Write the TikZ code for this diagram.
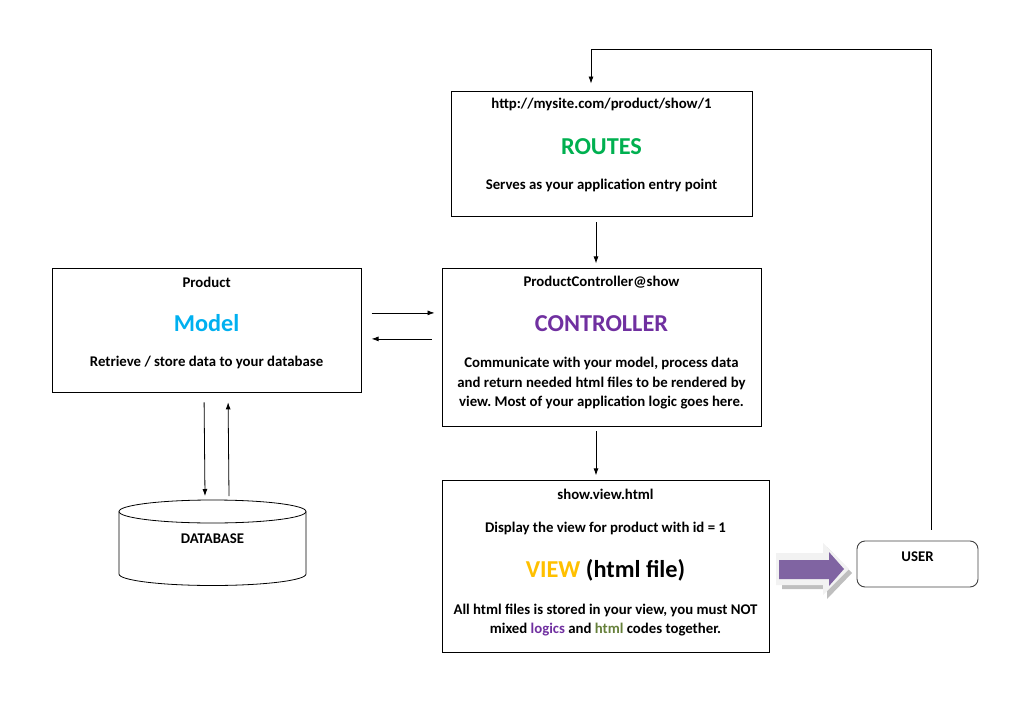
\documentclass[tikz,border=0pt]{standalone}
\usepackage{fontspec}
\setmainfont{Carlito}
\usetikzlibrary{positioning, shapes.geometric, arrows.meta}

\definecolor{routesgreen}{HTML}{00B050}
\definecolor{modelblue}{HTML}{00B0F0}
\definecolor{ctrlpurple}{HTML}{7030A0}
\definecolor{viewgold}{HTML}{FFC000}
\definecolor{htmlolive}{HTML}{66803A}
\definecolor{arrowpurple}{HTML}{8064A2}

\begin{document}
\frenchspacing
\begin{tikzpicture}[x=1pt, y=-1pt, >=latex]
      \tikzstyle{box} = [rectangle, draw=black, line width=0.9pt, inner sep=0pt]
      \tikzstyle{small} = [font=\bfseries\fontsize{14.8}{19.5}\selectfont, align=center, inner sep=0pt]
      \tikzstyle{title} = [font=\bfseries\fontsize{24.3}{28}\selectfont, inner sep=0pt]
      \tikzstyle{arrow} = [line width=0.8pt, -{Latex[length=7pt, width=5pt]}]

      \useasboundingbox (0,0) rectangle (1015,725);

      % boxes
      \node (routes) [box, minimum width=301pt, minimum height=125pt] at (601.5,153.5) {};
      \node (controller) [box, minimum width=319pt, minimum height=158pt, below=52pt of routes] {};
      \node (view) [box, minimum width=327pt, minimum height=172pt, below=53pt of controller, xshift=4pt] {};
      \node (model) [box, minimum width=309pt, minimum height=124pt, left=80pt of controller.north west, anchor=north east] {};
      \node (user) [box, rounded corners=8pt, draw=black!75, minimum width=121pt, minimum height=46pt] at (917.5,564) {};

      % database
      \coordinate (db) at (212.5,500);
      \draw [line width=0.8pt] (212.5,511.5) ellipse [x radius=93.5pt, y radius=11.5pt];
      \draw [line width=0.8pt] (119,511.5) -- (119,574) arc [start angle=180, end angle=360, x radius=93.5pt, y radius=11.5pt] -- (306,511.5);

      % texts
      \node (routesurl) [small] at ([yshift=-14pt]routes.north) {http://mysite.com/product/show/1};
      \node (routestitle) [title, text=routesgreen] at ([yshift=-56pt]routes.north) {ROUTES};
      \node (routesinfo) [small] at ([yshift=-95pt]routes.north) {Serves as your application entry point};

      \node (ctrlname) [small] at ([yshift=-14pt]controller.north) {ProductController@show};
      \node (ctrltitle) [title, text=ctrlpurple] at ([yshift=-55pt]controller.north) {CONTROLLER};
      \node (ctrlinfo) [small] at ([yshift=-115pt]controller.north) {Communicate with your model, process data\\and return needed html files to be rendered by\\view. Most of your application logic goes here.};

      \node (viewname) [small] at ([yshift=-14pt]view.north) {show.view.html};
      \node (viewdisplay) [small] at ([yshift=-48pt]view.north) {Display the view for product with id = 1};
      \node (viewtitle) [title] at ([yshift=-90pt]view.north) {\textcolor{viewgold}{VIEW} (html file)};
      \node (viewinfo) [small] at ([yshift=-139.5pt]view.north) {All html files is stored in your view, you must NOT\\mixed \textcolor{ctrlpurple}{logics} and \textcolor{htmlolive}{html} codes together.};

      \node (modelname) [small] at ([yshift=-14pt]model.north) {Product};
      \node (modeltitle) [title, text=modelblue] at ([yshift=-55pt]model.north) {Model};
      \node (modelinfo) [small] at ([yshift=-94pt]model.north) {Retrieve / store data to your database};

      \node (dbname) [small] at ([yshift=-39pt]db) {DATABASE};
      \node (username) [small] at ([yshift=-16pt]user.north) {USER};

      % connectors
      \draw [arrow] ([xshift=-5.5pt, yshift=-6pt]routes.south) -- ([xshift=-5.5pt, yshift=5pt]controller.north);
      \draw [arrow] ([xshift=-5.5pt, yshift=-4pt]controller.south) -- ([xshift=-9.5pt, yshift=5pt]view.north);
      \draw [arrow] ([xshift=10pt, yshift=18pt]model.east) -- ([xshift=-7pt, yshift=35pt]controller.west);
      \draw [arrow] ([xshift=-10pt, yshift=9pt]controller.west) -- ([xshift=10pt, yshift=-8pt]model.east);
      \draw [arrow] ([xshift=-2.5pt, yshift=-9pt]model.south) -- ([xshift=-7.5pt, yshift=4pt]db);
      \draw [arrow] ([xshift=16.5pt, yshift=4pt]db) -- ([xshift=21.5pt, yshift=-9pt]model.south);
      \draw [arrow] ([xshift=13.5pt, yshift=11pt]user.north) -- ++(0,-480) -| ([xshift=-10.5pt, yshift=7pt]routes.north);

      % view to user
      \fill [black!25] (782,557) -- (827,557) -- (827,547) -- (852,573) -- (827,599) -- (827,589) -- (782,589) -- cycle;
      \fill [black!5] (776,553) -- (823,553) -- (823,543) -- (849,569) -- (823,595) -- (823,585) -- (776,585) -- cycle;
      \fill [arrowpurple] (779,560) -- (829,560) -- (829,552) -- (844,569) -- (829,586) -- (829,579) -- (779,579) -- cycle;
\end{tikzpicture}
\end{document}
